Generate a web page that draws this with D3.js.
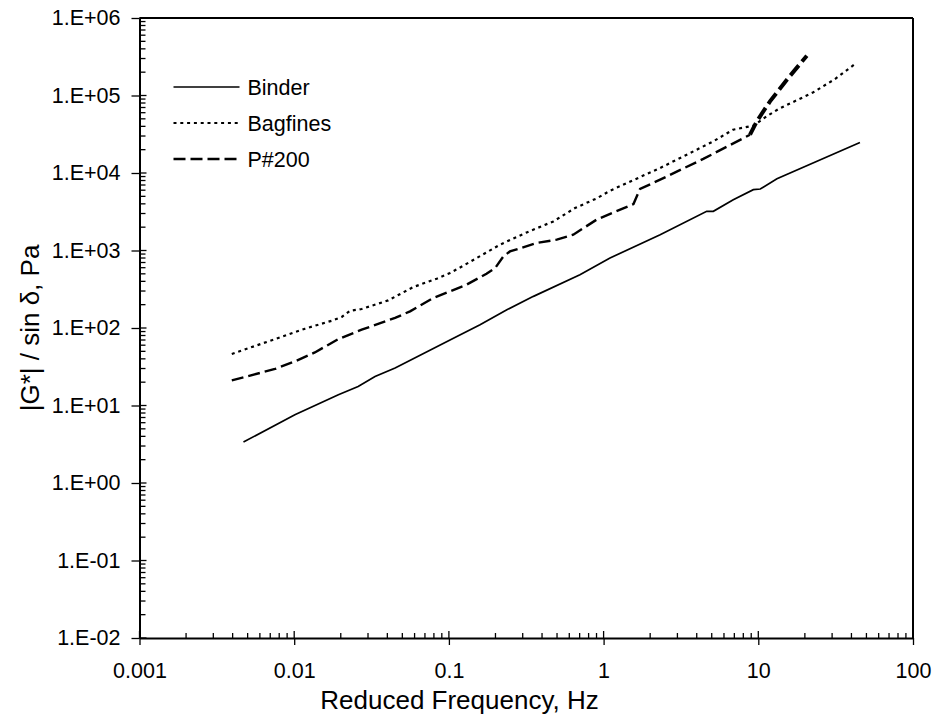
<!DOCTYPE html>
<html>
<head>
<meta charset="utf-8">
<script src="https://cdn.jsdelivr.net/npm/d3@7"></script>
<style>
  body { margin: 0; background: #fff; }
  svg { display: block; font-family: "Liberation Sans", Arial, sans-serif; }
</style>
</head>
<body>
<svg></svg>
<script>
const svgWidth = 938,
  svgHeight = 718,
  margin = {top: 18, right: 25, bottom: 80, left: 139.5},
  innerWidth = svgWidth - margin.left - margin.right,
  innerHeight = svgHeight - margin.top - margin.bottom,
  tickFont = 21.5,
  titleFont = 26,
  legendFont = 21.5

// data (frequency in Hz, |G*|/sin d in Pa)
const binderFreq = [0.0047, 0.0101, 0.0193, 0.0259, 0.0333, 0.0449, 0.107, 0.159, 0.237, 0.352, 0.703, 1.10, 2.32, 4.64, 5.12, 6.89, 9.29, 10.3, 13.2, 45.4]
const binderG = [3.38, 7.6, 13.8, 17.6, 23.7, 30.5, 74, 110, 172, 256, 487, 800, 1600, 3200, 3200, 4520, 6090, 6220, 8440, 24800]

const bagfinesFreq = [0.00395, 0.00752, 0.01175, 0.01745, 0.0203, 0.0230, 0.0273, 0.0405, 0.0589, 0.0834, 0.1017, 0.124, 0.175, 0.214, 0.318, 0.473, 0.653, 0.901, 1.10, 2.32, 5.12, 6.86, 9.29, 11.3, 13.5, 22.7, 31.3, 42.2]
const bagfinesG = [46.2, 72, 98, 124, 139, 167, 176, 227, 338, 433, 513, 637, 944, 1190, 1710, 2370, 3530, 4700, 5910, 11600, 25600, 36200, 40800, 53700, 66900, 110000, 163000, 255000]

const p200Freq = [0.00395, 0.00752, 0.0101, 0.0136, 0.0193, 0.0273, 0.0449, 0.0561, 0.0793, 0.130, 0.175, 0.199, 0.225, 0.248, 0.370, 0.498, 0.637, 0.901, 1.56, 1.72, 2.32, 4.41, 8.84, 9.77, 11.9, 15.3, 20.6]
const p200G = [21.1, 29.6, 37.1, 48.4, 72, 95, 135, 164, 244, 362, 502, 594, 839, 973, 1250, 1380, 1600, 2500, 3980, 6220, 8200, 15200, 31200, 46300, 84000, 160000, 326000]

const seriesNames = ['Binder', 'Bagfines', 'P#200']

const xTicks = [0.001, 0.01, 0.1, 1, 10, 100]
const xTickLabels = ['0.001', '0.01', '0.1', '1', '10', '100']
const yTicks = [1e-2, 1e-1, 1e0, 1e1, 1e2, 1e3, 1e4, 1e5, 1e6]
const yTickLabels = ['1.E-02', '1.E-01', '1.E+00', '1.E+01', '1.E+02', '1.E+03', '1.E+04', '1.E+05', '1.E+06']

const xTitle = 'Reduced Frequency, Hz'
const yTitle = '|G*| / sin \u03b4, Pa'

const zip = (xs, ys) => xs.map((d, i) => ({f: d, g: ys[i]}))

const binder = zip(binderFreq, binderG)
const bagfines = zip(bagfinesFreq, bagfinesG)
const p200 = zip(p200Freq, p200G)
// the last stretch of P#200 is drawn heavier in the original
const p200Split = 22
const p200Low = p200.slice(0, p200Split + 1)
const p200High = p200.slice(p200Split)

const x = d3.scaleLog().domain([xTicks[0], xTicks[xTicks.length - 1]]).range([0, innerWidth])
const y = d3.scaleLog().domain([yTicks[0], yTicks[yTicks.length - 1]]).range([innerHeight, 0])

const isMajor = v => Math.abs(Math.log10(v) - Math.round(Math.log10(v))) < 1e-9
const xMinor = x.ticks().filter(d => !isMajor(d))
const yMinor = y.ticks().filter(d => !isMajor(d))

const svg = d3.select('svg')
  .attr('width', svgWidth)
  .attr('height', svgHeight)

const g = svg.append('g')
  .attr('transform', `translate(${margin.left},${margin.top})`)

// frame on top and right
g.append('line')
  .attr('x1', 0).attr('x2', innerWidth).attr('y1', 0).attr('y2', 0)
  .attr('stroke', '#000').attr('stroke-width', 2)
g.append('line')
  .attr('x1', innerWidth).attr('x2', innerWidth).attr('y1', 0).attr('y2', innerHeight)
  .attr('stroke', '#000').attr('stroke-width', 2)

// x axis
const xAxis = g.append('g')
  .attr('transform', `translate(0,${innerHeight})`)
  .call(d3.axisBottom(x)
    .tickValues(xTicks)
    .tickFormat((d, i) => xTickLabels[i])
    .tickSizeInner(7)
    .tickSizeOuter(0)
    .tickPadding(18))
xAxis.select('.domain').attr('stroke-width', 2)
xAxis.selectAll('.tick line').attr('stroke-width', 1.3)
xAxis.selectAll('.tick text')
  .attr('font-size', tickFont)
  .attr('font-family', '"Liberation Sans", Arial, sans-serif')
  .attr('fill', '#000')

// y axis
const yAxis = g.append('g')
  .call(d3.axisLeft(y)
    .tickValues(yTicks)
    .tickFormat((d, i) => yTickLabels[i])
    .tickSizeInner(8)
    .tickSizeOuter(0)
    .tickPadding(11))
yAxis.select('.domain').attr('stroke-width', 2)
yAxis.selectAll('.tick line').attr('stroke-width', 1.3)
yAxis.selectAll('.tick text')
  .attr('font-size', tickFont)
  .attr('font-family', '"Liberation Sans", Arial, sans-serif')
  .attr('fill', '#000')

// inward ticks: majors cross the axis, minors point into the plot
const innerTicks = g.append('g').attr('stroke', '#000').attr('stroke-width', 1.3)
innerTicks.selectAll('.xin')
  .data(xTicks.map(d => ({v: d, len: 7})).concat(xMinor.map(d => ({v: d, len: 5}))))
  .join('line')
  .attr('x1', d => x(d.v)).attr('x2', d => x(d.v))
  .attr('y1', innerHeight).attr('y2', d => innerHeight - d.len)
innerTicks.selectAll('.yin')
  .data(yTicks.map(d => ({v: d, len: 7})).concat(yMinor.map(d => ({v: d, len: 6}))))
  .join('line')
  .attr('y1', d => y(d.v)).attr('y2', d => y(d.v))
  .attr('x1', 0).attr('x2', d => d.len)

// axis titles
g.append('text')
  .attr('x', 320)
  .attr('y', innerHeight + 71)
  .attr('text-anchor', 'middle')
  .attr('font-size', titleFont)
  .text(xTitle)

g.append('text')
  .attr('transform', `translate(${-101},${innerHeight / 2}) rotate(-90)`)
  .attr('text-anchor', 'middle')
  .attr('font-size', titleFont)
  .text(yTitle)

// series
const line = d3.line()
  .x(d => x(d.f))
  .y(d => y(d.g))

const styles = [
  {width: 1.7, dash: null},
  {width: 2.2, dash: '3,3.8'},
  {width: 2.4, dash: '12,5'}
]

const plot = g.append('g').attr('fill', 'none').attr('stroke', '#000')

plot.append('path').datum(binder)
  .attr('d', line)
  .attr('stroke-width', styles[0].width)

plot.append('path').datum(bagfines)
  .attr('d', line)
  .attr('stroke-width', styles[1].width)
  .attr('stroke-dasharray', styles[1].dash)

plot.append('path').datum(p200Low)
  .attr('d', line)
  .attr('stroke-width', styles[2].width)
  .attr('stroke-dasharray', styles[2].dash)

plot.append('path').datum(p200High)
  .attr('d', line)
  .attr('stroke-width', 4)
  .attr('stroke-dasharray', '13,5')

// legend
const legend = g.append('g')
  .attr('transform', 'translate(34,69)')

const rows = legend.selectAll('.legend-row')
  .data(seriesNames)
  .join('g')
  .attr('class', 'legend-row')
  .attr('transform', (d, i) => `translate(0,${i * 36})`)

rows.append('line')
  .attr('x1', 0).attr('x2', 66)
  .attr('y1', 0).attr('y2', 0)
  .attr('stroke', '#000')
  .attr('stroke-width', (d, i) => styles[i].width)
  .attr('stroke-dasharray', (d, i) => styles[i].dash)

rows.append('text')
  .attr('x', 74)
  .attr('dy', '0.35em')
  .attr('font-size', legendFont)
  .text(d => d)
</script>
</body>
</html>
